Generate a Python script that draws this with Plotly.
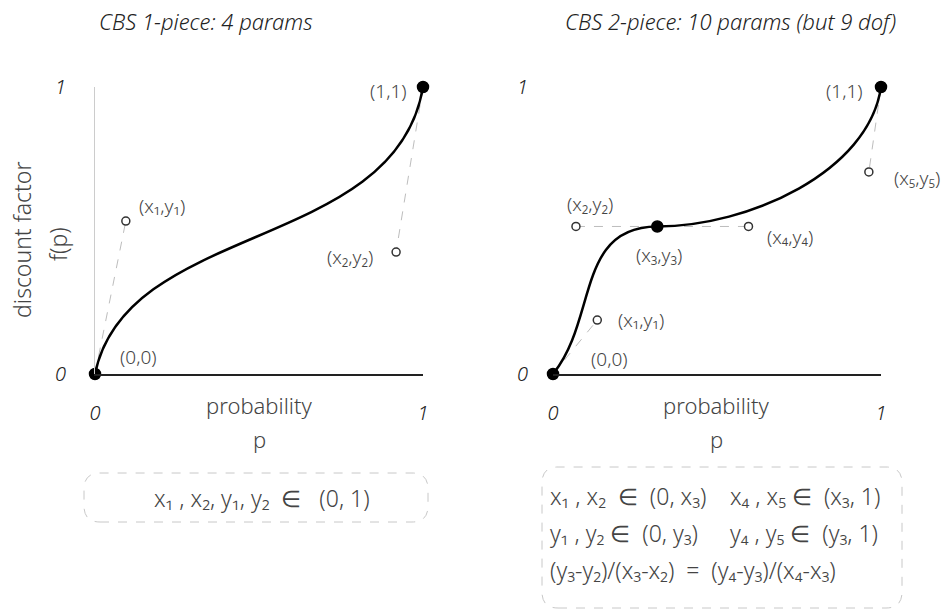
import plotly.graph_objects as go

W, H = 951, 612

# ---- data: control points of the cubic Bezier splines ----
# left panel: one piece
left_x = [0.0, 0.094, 0.918, 1.0]
left_y = [0.0, 0.533, 0.425, 1.0]
left_names = ["(0,0)", "(x₁,y₁)", "(x₂,y₂)", "(1,1)"]

# right panel: two pieces sharing (x3,y3)
right_x = [0.0, 0.135, 0.070, 0.318, 0.596, 0.963, 1.0]
right_y = [0.0, 0.188, 0.514, 0.514, 0.514, 0.704, 1.0]
right_names = ["(0,0)", "(x₁,y₁)", "(x₂,y₂)", "(x₃,y₃)", "(x₄,y₄)", "(x₅,y₅)", "(1,1)"]

tick_vals = [0, 1]
tick_text = ["0", "1"]

titles = ["CBS 1-piece: 4 params", "CBS 2-piece: 10 params (but 9 dof)"]
left_box_text = "x₁ , x₂, y₁, y₂  ∈   (0, 1)"
right_box_left = ["x₁ , x₂  ∈  (0, x₃)", "y₁ , y₂ ∈  (0, y₃)"]
right_box_right = ["x₄ , x₅ ∈  (x₃, 1)", "y₄ , y₅ ∈  (y₃, 1)"]
right_box_eq = "(y₃-y₂)/(x₃-x₂)  =  (y₄-y₃)/(x₄-x₃)"

FONT = "'Noto Sans', Lato, sans-serif"
TXT = "#444444"
DASH = "#bdbdbd"


def px(x):
    return x / W


def py(y):
    return 1 - y / H


def bezier_path(xs, ys):
    p = f"M {xs[0]},{ys[0]}"
    for i in range(1, len(xs), 3):
        p += " C " + " ".join(f"{xs[j]},{ys[j]}" for j in range(i, i + 3))
    return p


def rounded_box(x0, y0, x1, y1, r):
    # pixel coords -> paper path with rounded corners
    rx, ry = r / W, r / H
    a, b, c, d = px(x0), py(y1), px(x1), py(y0)
    return (
        f"M {a + rx},{b} L {c - rx},{b} Q {c},{b} {c},{b + ry} "
        f"L {c},{d - ry} Q {c},{d} {c - rx},{d} L {a + rx},{d} "
        f"Q {a},{d} {a},{d - ry} L {a},{b + ry} Q {a},{b} {a + rx},{b} Z"
    )


def note(x, y, text, size, xanchor="center", angle=0, **font):
    fig.add_annotation(x=px(x), y=py(y), xref="paper", yref="paper", text=text,
                       xanchor=xanchor, yanchor="middle", textangle=angle, showarrow=False,
                       font=dict(family=FONT, size=size, color=font.pop("color", TXT),
                                 weight=300, **font))


fig = go.Figure()

# dashed control-point guides
guides_left = [[0, 1], [3, 2]]
guides_right = [[0, 1], [2, 3, 4], [6, 5]]
for idx in guides_left:
    fig.add_trace(go.Scatter(x=[left_x[i] for i in idx], y=[left_y[i] for i in idx],
                             mode="lines", line=dict(color=DASH, width=1, dash="dash"),
                             xaxis="x", yaxis="y", showlegend=False, hoverinfo="skip"))
for idx in guides_right:
    fig.add_trace(go.Scatter(x=[right_x[i] for i in idx], y=[right_y[i] for i in idx],
                             mode="lines", line=dict(color=DASH, width=1, dash="dash"),
                             xaxis="x2", yaxis="y2", showlegend=False, hoverinfo="skip"))

# curves as Bezier paths in data coordinates
fig.add_shape(type="path", path=bezier_path(left_x, left_y), xref="x", yref="y",
              line=dict(color="black", width=2.5), layer="above")
fig.add_shape(type="path", path=bezier_path(right_x, right_y), xref="x2", yref="y2",
              line=dict(color="black", width=2.5), layer="above")


# points
def add_points(xs, ys, solid, xa, ya):
    for i in range(len(xs)):
        filled = i in solid
        fig.add_trace(go.Scatter(
            x=[xs[i]], y=[ys[i]], mode="markers", xaxis=xa, yaxis=ya,
            cliponaxis=False, showlegend=False, hoverinfo="skip",
            marker=dict(size=11 if filled else 8,
                        color="black" if filled else "white",
                        line=dict(color="black" if filled else "#333", width=1.5))))


add_points(left_x, left_y, [0, 3], "x", "y")
add_points(right_x, right_y, [0, 3, 6], "x2", "y2")

# point labels (offsets in pixels)
left_off = [(43, 17), (36, 15), (-46, -5), (-35, -4)]
right_off = [(56, 15), (44, 0), (14, 22), (2, -29), (42, -11), (48, -6), (-37, -4)]
for names, xs, ys, offs, xa, ya in [(left_names, left_x, left_y, left_off, "x", "y"),
                                    (right_names, right_x, right_y, right_off, "x2", "y2")]:
    for n, x, y, (dx, dy) in zip(names, xs, ys, offs):
        fig.add_annotation(x=x, y=y, xref=xa, yref=ya, text=n, showarrow=False,
                           xshift=dx, yshift=dy,
                           font=dict(family=FONT, size=19, color=TXT, weight=300))

# panel titles
for t, cx in zip(titles, [206, 730]):
    note(cx, 21, t, 22, color="#222", style="italic")

# axis titles
for cx in [259, 716]:
    note(cx, 405, "probability", 22)
    note(cx, 439, "p", 22)
note(22, 240, "discount factor", 23, angle=-90)
note(58, 244, "f(p)", 23, angle=-90)

# constraint boxes
fig.add_shape(type="path", path=rounded_box(84, 473, 428, 522, 16), xref="paper", yref="paper",
              line=dict(color="#c8c8c8", width=1, dash="dash"))
fig.add_shape(type="path", path=rounded_box(542, 467, 902, 608, 16), xref="paper", yref="paper",
              line=dict(color="#c8c8c8", width=1, dash="dash"))
note(262, 498, left_box_text, 23)
for l, r, yy in zip(right_box_left, right_box_right, [496, 533]):
    note(548, yy, l, 23, xanchor="left")
    note(728, yy, r, 23, xanchor="left")
note(548, 570, right_box_eq, 23, xanchor="left")

tickfont = dict(family=FONT, size=20, color="#222", style="italic", weight=300)
ax_common = dict(range=[0, 1], showgrid=False, zeroline=False, tickvals=tick_vals,
                 ticktext=tick_text, ticks="", tickfont=tickfont, fixedrange=True,
                 automargin=False)

fig.update_layout(
    width=W, height=H,
    margin=dict(l=0, r=0, t=0, b=0, autoexpand=False),
    plot_bgcolor="white", paper_bgcolor="white",
    xaxis=dict(domain=[px(95), px(423)], anchor="y", showline=True, linecolor="#222",
               linewidth=1.5, ticklabelstandoff=20, **ax_common),
    yaxis=dict(domain=[py(374), py(87)], anchor="x", showline=True, linecolor="#cccccc",
               linewidth=1, ticklabelstandoff=24, **ax_common),
    xaxis2=dict(domain=[px(553), px(881)], anchor="y2", showline=True, linecolor="#222",
                linewidth=1.5, ticklabelstandoff=20, **ax_common),
    yaxis2=dict(domain=[py(374), py(87)], anchor="x2", showline=False,
                ticklabelstandoff=24, **ax_common),
)

fig.write_html("out.html", config={"displayModeBar": False},
               post_script="document.body.style.margin = '0';")
